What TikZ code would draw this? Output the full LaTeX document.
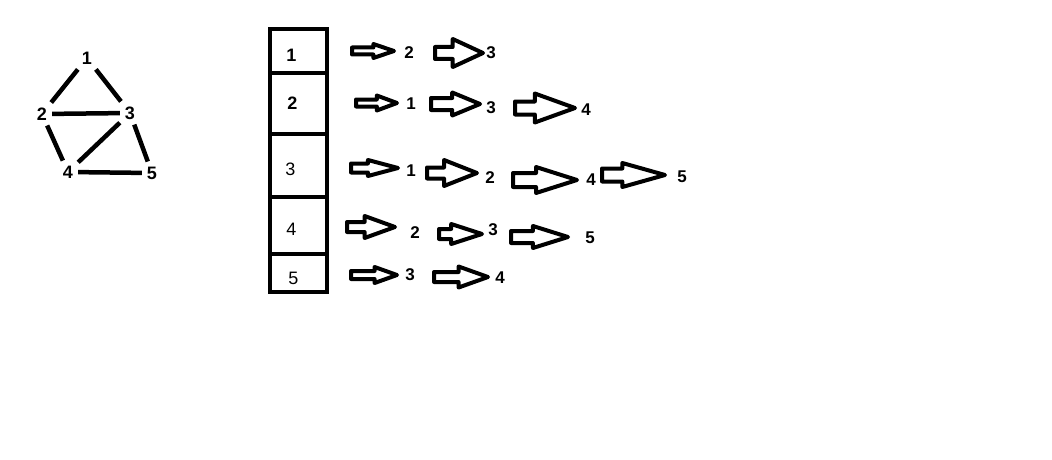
\documentclass[tikz,border=0pt]{standalone}
\usepackage{fontspec}
\setmainfont{Liberation Sans}
\usetikzlibrary{positioning,shapes.arrows}
\tikzset{
  vtx/.style={inner sep=5pt, font=\fontsize{18}{18}\selectfont\bfseries},
  edge/.style={line width=4.5pt},
  cell/.style={draw, line width=4pt, minimum width=57pt, inner sep=0pt},
  celltxt/.style={font=\fontsize{18}{18}\selectfont},
  item/.style={font=\fontsize{17}{17}\selectfont\bfseries},
  % length, half shaft, head extend, tip angle
  blockarrow/.style n args={4}{
    single arrow, draw=black, fill=white,
    line width=4pt, line join=round,
    inner xsep=0pt, inner ysep=#2,
    minimum height=#1,
    single arrow head extend=#3,
    single arrow tip angle=#4,
    anchor=tail,
  },
}
\begin{document}
\begin{tikzpicture}[x=1pt, y=-1pt]
\useasboundingbox (0,0) rectangle (1052,460);

% --- GRAPH ---
\node[vtx] (g1) at (87,58) {1};
\node[vtx] (g2) at (42,114) {2};
\node[vtx] (g3) at (130,113) {3};
\node[vtx] (g4) at (68,172) {4};
\node[vtx] (g5) at (152,173) {5};
\draw[edge] (g1) -- (g2);
\draw[edge] (g1) -- (g3);
\draw[edge] (g2) -- (g3);
\draw[edge] (g2) -- (g4);
\draw[edge] (g3) -- (g4);
\draw[edge] (g3) -- (g5);
\draw[edge] (g4) -- (g5);

% --- ADJACENCY COLUMN ---
\node[cell, minimum height=44pt] (c1) at (298.5,51) {};
\node[cell, minimum height=61pt] (c2) at (298.5,103.5) {};
\node[cell, minimum height=63pt] (c3) at (298.5,165.5) {};
\node[cell, minimum height=57pt] (c4) at (298.5,225.5) {};
\node[cell, minimum height=38pt] (c5) at (298.5,273) {};
\node[celltxt, font=\fontsize{18}{18}\selectfont\bfseries]
  (k1) at ([xshift=-7pt,yshift=-4pt]c1.center) {1};
\node[celltxt, font=\fontsize{18}{18}\selectfont\bfseries]
  (k2) at ([xshift=-6pt,yshift=0pt]c2.center) {2};
\node[celltxt] (k3) at ([xshift=-8pt,yshift=-3.5pt]c3.center) {3};
\node[celltxt] (k4) at ([xshift=-7pt,yshift=-3.5pt]c4.center) {4};
\node[celltxt] (k5) at ([xshift=-5pt,yshift=-5pt]c5.center) {5};

% --- ROW 1 ---
\node[blockarrow={42}{1.5}{3.5}{37.5}] (a11) at (350,51) {};
\node[item] (n11) at (409,53) {2};
\node[blockarrow={48}{4}{8}{49.6}] (a12) at (433,53) {};
\node[item] (n12) at (491,53) {3};

% --- ROW 2 ---
\node[blockarrow={41}{1.5}{4}{40.7}] (a21) at (354,103) {};
\node[item] (n21) at (411,104) {1};
\node[blockarrow={49}{4}{5.5}{45}] (a22) at (429,104) {};
\node[item] (n22) at (491,108) {3};
\node[blockarrow={60}{4.5}{8}{39.7}] (a23) at (513,108) {};
\node[item] (n23) at (586,110) {4};

% --- ROW 3 ---
\node[blockarrow={47}{2.5}{3.5}{29.8}] (a31) at (349,168) {};
\node[item] (n31) at (411,171) {1};
\node[blockarrow={50}{3.5}{7.5}{43}] (a32) at (425,173) {};
\node[item] (n32) at (490,178) {2};
\node[blockarrow={64}{5}{6}{35.2}] (a33) at (511,180) {};
\node[item] (n33) at (591,180) {4};
\node[blockarrow={63}{4.5}{5.5}{31.4}] (a34) at (600,175) {};
\node[item] (n34) at (682,177) {5};

% --- ROW 4 ---
\node[blockarrow={48}{3}{6}{39.8}] (a41) at (345,227) {};
\node[item] (n41) at (415,233) {2};
\node[blockarrow={43}{3}{5}{35.9}] (a42) at (437,234) {};
\node[item] (n42) at (493,230) {3};
\node[blockarrow={57}{4}{5}{34.8}] (a43) at (509,237) {};
\node[item] (n43) at (590,238) {5};

% --- ROW 5 ---
\node[blockarrow={46}{2}{4}{39.3}] (a51) at (349,275) {};
\node[item] (n51) at (410,275) {3};
\node[blockarrow={54}{3}{5.5}{39.3}] (a52) at (432,277) {};
\node[item] (n52) at (500,278) {4};

\end{tikzpicture}
\end{document}
